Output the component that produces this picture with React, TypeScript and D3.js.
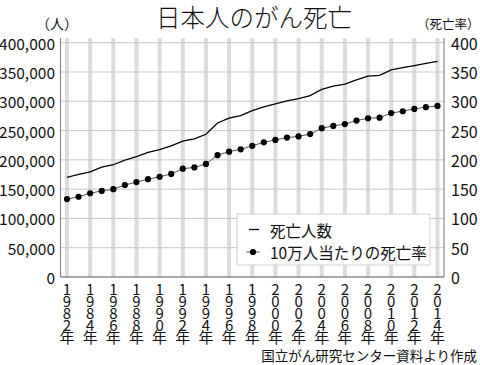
import React from "react";
import * as d3 from "d3";

const years: number[] = d3.range(1982, 2015);
const deaths: number[] = [
  170130, 175130, 179502, 187714, 191654, 199563, 205470, 212625, 217413, 223727,
  231917, 235707, 243670, 263022, 271183, 275413, 283921, 290556, 295484, 300658,
  304568, 309543, 320358, 325941, 329314, 336468, 342963, 344105, 353499, 357305,
  360963, 364872, 368103,
];
const rates: number[] = [
  133, 137, 143, 147, 150, 157, 162, 167, 171, 176,
  185, 187, 193, 208, 214, 218, 224, 230, 234, 238,
  240, 244, 254, 258, 261, 267, 271, 272, 280, 283,
  287, 290, 292,
];
const leftTicks: number[] = [0, 50000, 100000, 150000, 200000, 250000, 300000, 350000, 400000];
const rightTicks: number[] = [0, 50, 100, 150, 200, 250, 300, 350, 400];
const labelYears: number[] = d3.range(1982, 2015, 2);

const FONT = "'Noto Sans CJK JP', 'Noto Sans', sans-serif";

export default function App() {
  const W = 480, H = 365;
  const left = 60.5, right = 444;
  const top = 38, bottom = 277;
  const x = d3.scaleLinear().domain([1982, 2014]).range([67, 437.5]);
  const yL = d3.scaleLinear().domain([0, 400000]).range([277, 42.7]);
  const yR = d3.scaleLinear().domain([0, 400]).range([277, 42.7]);

  const deathLine = d3.line<number>().x((_, i) => x(years[i])).y((d) => yL(d))(deaths) || "";
  const rateLine = d3.line<number>().x((_, i) => x(years[i])).y((d) => yR(d))(rates) || "";
  const fmt = d3.format(",");

  return (
    <svg width={W} height={H} style={{ position: "absolute", left: 0, top: 0, background: "#fff" }} fontFamily={FONT}>
      <rect x={0} y={0} width={W} height={H} fill="#fff" />
      {/* vertical bars */}
      {labelYears.map((yr) => (
        <line key={"b" + yr} x1={x(yr)} x2={x(yr)} y1={top} y2={bottom} stroke="#dcdcdc" strokeWidth={4} />
      ))}
      {/* horizontal grid */}
      {leftTicks.slice(1).map((t) => (
        <line key={"g" + t} x1={left} x2={right} y1={yL(t)} y2={yL(t)} stroke="#c8c8c8" strokeWidth={1} />
      ))}
      {/* axes */}
      <line x1={left} x2={left} y1={top} y2={bottom} stroke="#8a8a8a" strokeWidth={1.2} />
      <line x1={right} x2={right} y1={top} y2={bottom} stroke="#8a8a8a" strokeWidth={1.2} />
      <line x1={left} x2={right} y1={bottom} y2={bottom} stroke="#555" strokeWidth={1.2} />

      {/* data */}
      <path d={deathLine} fill="none" stroke="#000" strokeWidth={1.3} />
      <path d={rateLine} fill="none" stroke="#555" strokeWidth={1} />
      {rates.map((r, i) => (
        <circle key={"c" + i} cx={x(years[i])} cy={yR(r)} r={3.1} fill="#000" />
      ))}

      {/* legend */}
      <rect x={237} y={214} width={193} height={51} fill="#fff" stroke="#cfcfcf" strokeWidth={1} />
      <line x1={249} x2={259} y1={229.5} y2={229.5} stroke="#000" strokeWidth={1.3} />
      <text x={270} y={229.5} fontSize={15.5} dominantBaseline="central" fill="#111">死亡人数</text>
      <line x1={246.5} x2={259.5} y1={252} y2={252} stroke="#555" strokeWidth={1} />
      <circle cx={253} cy={252} r={3.1} fill="#000" />
      <text x={270} y={252} fontSize={15.5} dominantBaseline="central" fill="#111">10万人当たりの死亡率</text>

      {/* left ticks */}
      {leftTicks.map((t) => (
        <text key={"l" + t} x={55} y={yL(t)} fontSize={15.5} textAnchor="end" dominantBaseline="central" fill="#111">
          {fmt(t)}
        </text>
      ))}
      {/* right ticks */}
      {rightTicks.map((t) => (
        <text key={"r" + t} x={451} y={yR(t)} fontSize={16} textAnchor="start" dominantBaseline="central" fill="#111">
          {t}
        </text>
      ))}
      {/* x labels (vertical stack) */}
      {labelYears.map((yr) => {
        const chars = (String(yr) + "年").split("");
        return (
          <text key={"x" + yr} fontSize={15} textAnchor="middle" dominantBaseline="central" fill="#111">
            {chars.map((ch, i) => (
              <tspan key={i} x={x(yr)} y={287.5 + i * 12.1}>
                {ch}
              </tspan>
            ))}
          </text>
        );
      })}

      {/* titles */}
      <text x={254} y={16.5} fontSize={24.5} fontWeight={300} textAnchor="middle" dominantBaseline="central" fill="#111">日本人のがん死亡</text>
      <text x={57} y={23} fontSize={14} textAnchor="middle" dominantBaseline="central" fill="#111">（人）</text>
      <text x={479.5} y={23} fontSize={12.5} textAnchor="end" dominantBaseline="central" fill="#111">（死亡率）</text>
      <text x={477} y={355} fontSize={13.5} textAnchor="end" dominantBaseline="central" fill="#111">国立がん研究センター資料より作成</text>
    </svg>
  );
}
